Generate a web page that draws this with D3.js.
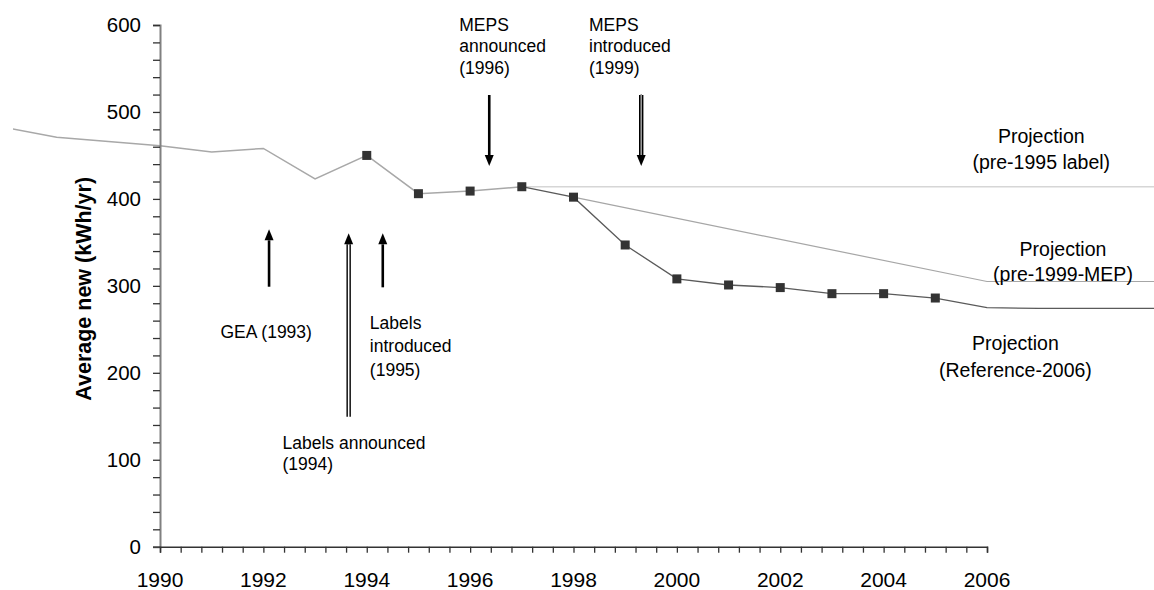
<!DOCTYPE html>
<html>
<head>
<meta charset="utf-8">
<script src="https://cdn.jsdelivr.net/npm/d3@7"></script>
<style>
  html, body { margin: 0; padding: 0; background: #fff; }
  svg { display: block; font-family: "Liberation Sans", Arial, sans-serif; }
</style>
</head>
<body>
<svg id="chart" width="1154" height="590"></svg>
<script>
// ---- Data ----
const historyYears  = [1987, 1988, 1989, 1990, 1991, 1992, 1993, 1994, 1995, 1996, 1997];
const historyValues = [482, 471, 466, 461, 454, 458, 423, 450, 406, 409, 414];

const referenceYears  = [1997, 1998, 1999, 2000, 2001, 2002, 2003, 2004, 2005, 2006, 2007, 2008, 2009, 2010];
const referenceValues = [414, 402, 347, 308, 301, 298, 291, 291, 286, 275, 274, 274, 274, 274];

const pre1995Years  = [1997, 2010];
const pre1995Values = [414, 414];

const pre1999Years  = [1998, 2006, 2010];
const pre1999Values = [402, 305, 305];

const markerYears  = [1994, 1995, 1996, 1997, 1998, 1999, 2000, 2001, 2002, 2003, 2004, 2005];
const markerValues = [450, 406, 409, 414, 402, 347, 308, 301, 298, 291, 291, 286];

const xTickLabels = [1990, 1992, 1994, 1996, 1998, 2000, 2002, 2004, 2006];
const yTickLabels = [0, 100, 200, 300, 400, 500, 600];

const yTitle = "Average new (kWh/yr)";

// annotation arrows: year, start value, tip value, shaft type
const arrowYears  = [1992.11, 1993.65, 1994.31, 1996.37, 1999.31];
const arrowFrom   = [299, 149.5, 298.3, 519.5, 519.5];
const arrowTo     = [365, 360.4, 360.4, 437.8, 437.8];
const arrowKinds  = ["solid", "hollow", "solid", "solid", "grey"];

// annotation texts: lines, anchor year, baseline value
const noteLines  = [
  ["GEA (1993)"],
  ["Labels", "introduced", "(1995)"],
  ["Labels announced", "(1994)"],
  ["MEPS", "announced", "(1996)"],
  ["MEPS", "introduced", "(1999)"],
  ["Projection", "(pre-1995 label)"],
  ["Projection", "(pre-1999-MEP)"],
  ["Projection", "(Reference-2006)"]
];
const noteYears  = [1991.17, 1994.06, 1992.37, 1995.79, 1998.30, 2007.05, 2007.47, 2006.55];
const noteValues = [239.7, 250.4, 112.4, 593.4, 593.4, 464.6, 334.9, 226.2];

// ---- Layout / style ----
const noteAnchor = ["start", "start", "start", "start", "start", "middle", "middle", "middle"];
const noteSize   = [17.5, 17.5, 17.5, 17.5, 17.5, 19.5, 19.5, 19.5];
const noteLead   = [22, 23.5, 21, 21.7, 21.7, 26.6, 25.5, 26.7];

const svg = d3.select("#chart");
const x = d3.scaleLinear().domain([1990, 2006]).range([160, 987]);
const y = d3.scaleLinear().domain([0, 600]).range([546.7, 25]);

// clip for data lines (left crop of the original)
svg.append("defs").append("clipPath").attr("id", "clip")
  .append("rect").attr("x", 13).attr("y", 0).attr("width", 1154 - 13).attr("height", 590);

const line = d3.line().x(d => x(d[0])).y(d => y(d[1]));
const zip = (a, b) => a.map((v, i) => [v, b[i]]);

const g = svg.append("g").attr("clip-path", "url(#clip)");

g.append("path").datum(zip(pre1995Years, pre1995Values))
  .attr("d", line).attr("fill", "none").attr("stroke", "#d6d6d6").attr("stroke-width", 1.5);

g.append("path").datum(zip(pre1999Years, pre1999Values))
  .attr("d", line).attr("fill", "none").attr("stroke", "#a6a6a6").attr("stroke-width", 1.2);

g.append("path").datum(zip(historyYears, historyValues))
  .attr("d", line).attr("fill", "none").attr("stroke", "#a8a8a8").attr("stroke-width", 1.5);

g.append("path").datum(zip(referenceYears, referenceValues))
  .attr("d", line).attr("fill", "none").attr("stroke", "#5a5a5a").attr("stroke-width", 1.3);

g.selectAll("rect.mk").data(zip(markerYears, markerValues)).enter()
  .append("rect").attr("class", "mk")
  .attr("x", d => x(d[0]) - 4.5).attr("y", d => y(d[1]) - 4.5)
  .attr("width", 9).attr("height", 9).attr("fill", "#333");

// ---- Axes ----
const yAxisG = svg.append("g").attr("transform", `translate(${x(1990)},0)`);
yAxisG.call(d3.axisLeft(y).tickValues(d3.range(0, 601, 20)).tickSize(7).tickFormat(""));
yAxisG.select(".domain").attr("stroke", "#808080").attr("stroke-width", 2);
yAxisG.selectAll(".tick line").attr("stroke", "#333").attr("stroke-width", 1.3);
yAxisG.selectAll("text.yl").data(yTickLabels).enter().append("text")
  .attr("class", "yl").attr("x", -19).attr("y", d => y(d)).attr("dy", "0.36em")
  .attr("text-anchor", "end").attr("font-size", 20.5).attr("fill", "#000").text(d => d);

const xAxisG = svg.append("g").attr("transform", `translate(0,${y(0)})`);
xAxisG.call(d3.axisBottom(x).tickValues(d3.range(0, 41).map(i => 1990 + i * 0.4)).tickSize(6).tickFormat(""));
xAxisG.select(".domain").attr("stroke", "#333").attr("stroke-width", 1.5);
xAxisG.selectAll(".tick line").attr("stroke", "#333").attr("stroke-width", 1.3);
xAxisG.selectAll("text.xl").data(xTickLabels).enter().append("text")
  .attr("class", "xl").attr("x", d => x(d)).attr("y", 40)
  .attr("text-anchor", "middle").attr("font-size", 21).attr("fill", "#000").text(d => d);

// y title
svg.append("text")
  .attr("transform", `translate(91,${(y(0) + y(600)) / 2 + 3}) rotate(-90)`)
  .attr("text-anchor", "middle").attr("font-size", 21.5).attr("font-weight", "bold")
  .attr("fill", "#000").text(yTitle);

// ---- Arrows ----
arrowYears.forEach((yr, i) => {
  const ax = x(yr), y0 = y(arrowFrom[i]), y1 = y(arrowTo[i]);
  const dir = y1 < y0 ? -1 : 1;          // -1 up, +1 down
  const headLen = 11, headW = 4.5;
  const yb = y1 - dir * headLen;
  const kind = arrowKinds[i];
  if (kind === "solid") {
    svg.append("line").attr("x1", ax).attr("x2", ax).attr("y1", y0).attr("y2", yb)
      .attr("stroke", "#000").attr("stroke-width", 2.6);
  } else {
    svg.append("line").attr("x1", ax).attr("x2", ax).attr("y1", y0).attr("y2", yb)
      .attr("stroke", "#000").attr("stroke-width", 4.4);
    svg.append("line").attr("x1", ax).attr("x2", ax).attr("y1", y0 - dir * 1).attr("y2", yb)
      .attr("stroke", kind === "grey" ? "#9a9a9a" : "#fff").attr("stroke-width", 1.6);
  }
  svg.append("path")
    .attr("d", `M${ax - headW},${yb} L${ax + headW},${yb} L${ax},${y1} Z`)
    .attr("fill", "#000");
});

// ---- Notes ----
noteLines.forEach((lines, i) => {
  const t = svg.append("text")
    .attr("x", x(noteYears[i])).attr("y", y(noteValues[i]))
    .attr("text-anchor", noteAnchor[i]).attr("font-size", noteSize[i]).attr("fill", "#000");
  lines.forEach((s, j) => {
    t.append("tspan").attr("x", x(noteYears[i])).attr("y", y(noteValues[i]) + j * noteLead[i]).text(s);
  });
});
</script>
</body>
</html>
